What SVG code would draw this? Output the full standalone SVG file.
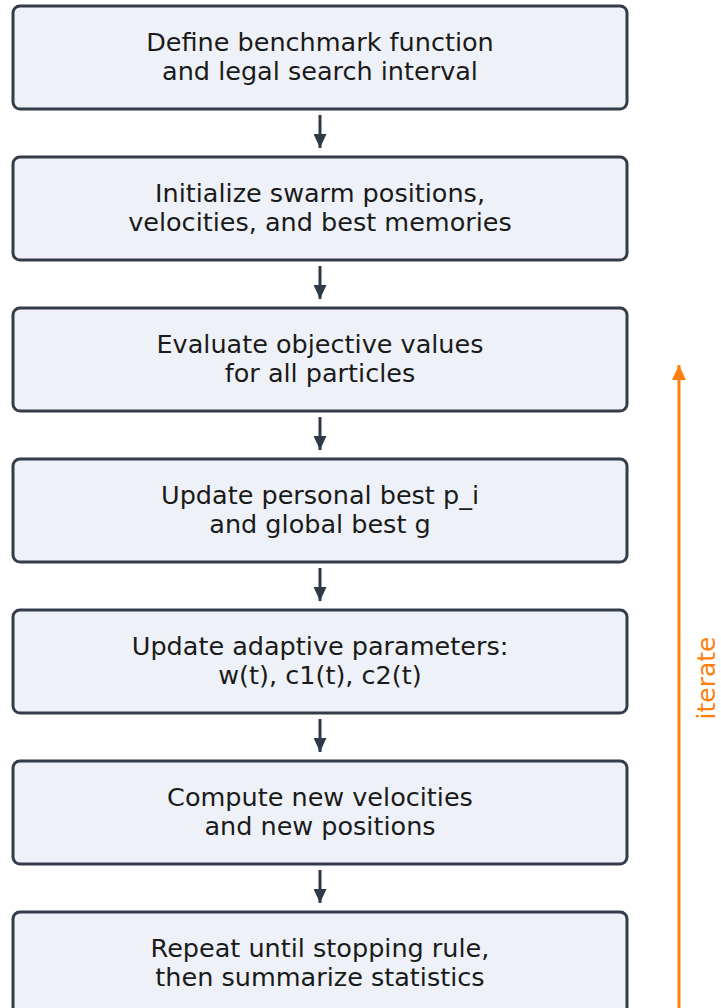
<svg xmlns="http://www.w3.org/2000/svg" width="721" height="1008" viewBox="0 0 721 1008">
<style>
.box{fill:#eef2f8;stroke:#333c48;stroke-width:3}
.t{font-family:"DejaVu Sans",sans-serif;font-size:25.5px;fill:#1a1a1a;text-anchor:middle}
.c{stroke:#2e3a48;stroke-width:3;fill:none}
</style>
<defs>
<marker id="ah" viewBox="0 0 14 13" refX="14" refY="6.5" markerWidth="14" markerHeight="13" markerUnits="userSpaceOnUse" orient="auto">
<path d="M0,0 L14,6.5 L0,13 Z" fill="#2e3a48"/>
</marker>
<marker id="oh" viewBox="0 0 15 14" refX="15" refY="7" markerWidth="15" markerHeight="14" markerUnits="userSpaceOnUse" orient="auto">
<path d="M0,0 L15,7 L0,14 Z" fill="#ff7f0e"/>
</marker>
</defs>
<rect width="721" height="1008" fill="#ffffff"/>
<g id="n1"><rect class="box" x="13" y="6" width="614" height="103" rx="7"/><text class="t" x="320" y="51">Define benchmark function</text><text class="t" x="320" y="80">and legal search interval</text></g>
<g id="n2"><rect class="box" x="13" y="157" width="614" height="103" rx="7"/><text class="t" x="320" y="202">Initialize swarm positions,</text><text class="t" x="320" y="231">velocities, and best memories</text></g>
<g id="n3"><rect class="box" x="13" y="308" width="614" height="103" rx="7"/><text class="t" x="320" y="353">Evaluate objective values</text><text class="t" x="320" y="382">for all particles</text></g>
<g id="n4"><rect class="box" x="13" y="459" width="614" height="103" rx="7"/><text class="t" x="320" y="504">Update personal best p_i</text><text class="t" x="320" y="533">and global best g</text></g>
<g id="n5"><rect class="box" x="13" y="610" width="614" height="103" rx="7"/><text class="t" x="320" y="655">Update adaptive parameters:</text><text class="t" x="320" y="684">w(t), c1(t), c2(t)</text></g>
<g id="n6"><rect class="box" x="13" y="761" width="614" height="103" rx="7"/><text class="t" x="320" y="806">Compute new velocities</text><text class="t" x="320" y="835">and new positions</text></g>
<g id="n7"><rect class="box" x="13" y="912" width="614" height="103" rx="7"/><text class="t" x="320" y="957">Repeat until stopping rule,</text><text class="t" x="320" y="986">then summarize statistics</text></g>
<g id="connectors">
<line class="c" x1="320" y1="115" x2="320" y2="148" marker-end="url(#ah)"/>
<line class="c" x1="320" y1="266" x2="320" y2="299" marker-end="url(#ah)"/>
<line class="c" x1="320" y1="417" x2="320" y2="450" marker-end="url(#ah)"/>
<line class="c" x1="320" y1="568" x2="320" y2="601" marker-end="url(#ah)"/>
<line class="c" x1="320" y1="719" x2="320" y2="752" marker-end="url(#ah)"/>
<line class="c" x1="320" y1="870" x2="320" y2="903" marker-end="url(#ah)"/>
<line x1="679" y1="1008" x2="679" y2="365" stroke="#ff7f0e" stroke-width="3" marker-end="url(#oh)"/>
<text x="708" y="678" transform="rotate(-90 708 678)" font-family="DejaVu Sans, sans-serif" font-size="25" fill="#ff7f0e" text-anchor="middle" dominant-baseline="middle">iterate</text>
</g>
</svg>
